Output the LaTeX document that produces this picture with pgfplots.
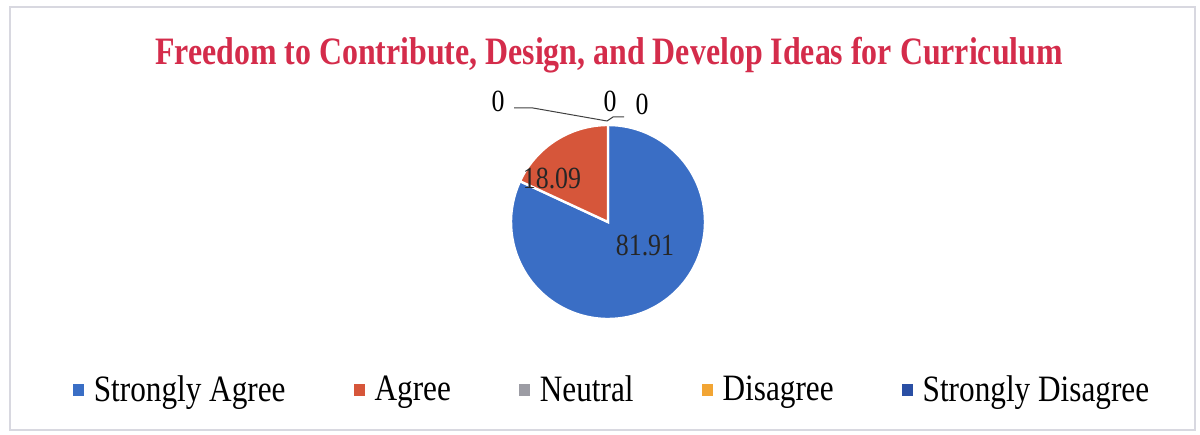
\documentclass[border=0pt]{standalone}
\usepackage{fontspec}
\setmainfont{Liberation Serif}
\usepackage{graphicx}
\usepackage{pgfplots}
\usepackage{pgfplotstable}
\pgfplotsset{compat=1.18}
\definecolor{cSA}{HTML}{3A6EC5}
\definecolor{cA}{HTML}{D6563A}
\definecolor{cN}{HTML}{9C9CA4}
\definecolor{cD}{HTML}{F2A534}
\definecolor{cSD}{HTML}{2A4FA4}
\definecolor{ctitle}{HTML}{D42C4B}
\definecolor{cframe}{HTML}{D8D8E0}
\definecolor{clead}{HTML}{404040}

\pgfplotstableread{
idx value
0 81.91
1 18.09
2 0
3 0
4 0
}\piedata

\pgfplotstablegetelem{0}{value}\of\piedata \let\vA\pgfplotsretval
\pgfplotstablegetelem{1}{value}\of\piedata \let\vB\pgfplotsretval
\pgfmathsetmacro\aA{90-3.6*\vA}
\pgfmathsetmacro\aB{\aA-3.6*\vB}

\newcommand\titletext{Freedom to Contribute, Design, and Develop Ideas for Curriculum}
\newlength\tw
\settowidth\tw{\bfseries\fontsize{19.4}{22}\selectfont\titletext}
\pgfmathsetmacro\tscale{454pt/\tw}
% condensed text as in the reference
\newcommand\legtxt[1]{\hspace{5pt}\scalebox{0.84}[1]{\fontsize{18.6}{20}\selectfont #1}}
\newcommand\dlab[1]{\scalebox{0.84}[1]{\fontsize{15.4}{17}\selectfont #1}}

\begin{document}
\begin{tikzpicture}
\begin{axis}[
  x=0.5pt, y=0.5pt,
  xmin=0, xmax=1200, ymin=0, ymax=434,
  hide axis, clip=false,
  legend columns=5,
  legend style={at={(axis cs:611,44)}, anchor=center, draw=none, fill=none,
    /tikz/every even column/.append style={column sep=34pt},
    nodes={inner xsep=0pt, inner ysep=1pt}},
  legend image code/.code={\fill[#1,draw=none] (0pt,-2.75pt) rectangle (5.5pt,2.75pt);},
]
\path (axis cs:0,0) rectangle (axis cs:1200,434);
\draw[cframe, line width=0.6pt] (axis cs:10,4) rectangle (axis cs:1195,427);

\addlegendimage{cSA}\addlegendentry{\legtxt{Strongly Agree}}
\addlegendimage{cA}\addlegendentry{\legtxt{Agree}}
\addlegendimage{cN}\addlegendentry{\legtxt{Neutral}}
\addlegendimage{cD}\addlegendentry{\legtxt{Disagree}}
\addlegendimage{cSD}\addlegendentry{\legtxt{Strongly Disagree}}

% pie slices (clockwise from 12 o'clock)
\fill[cSA, draw=white, line width=1.2pt] (axis cs:608,212) -- ++(90:48.5pt)
  arc[start angle=90, end angle=\aA, radius=48.5pt] -- cycle;
\fill[cA, draw=white, line width=1.2pt] (axis cs:608,212) -- ++(\aA:48.5pt)
  arc[start angle=\aA, end angle=\aB, radius=48.5pt] -- cycle;

% leader lines for zero slices
\draw[clead, line width=0.5pt] (axis cs:514,326) -- (axis cs:533,326) -- (axis cs:607,313);
\draw[clead, line width=0.5pt] (axis cs:607,313) -- (axis cs:613,317) -- (axis cs:624,317);

\node at (axis cs:498,333) {\dlab{0}};
\node at (axis cs:610,333) {\dlab{0}};
\node at (axis cs:642,330) {\dlab{0}};
\node[text=black!85] at (axis cs:552,256) {\dlab{18.09}};
\node[text=black!85] at (axis cs:645,189) {\dlab{81.91}};

\node[text=ctitle] at (axis cs:609,379)
  {\scalebox{\tscale}[1]{\bfseries\fontsize{19.4}{22}\selectfont\titletext}};
\end{axis}
\end{tikzpicture}
\end{document}
